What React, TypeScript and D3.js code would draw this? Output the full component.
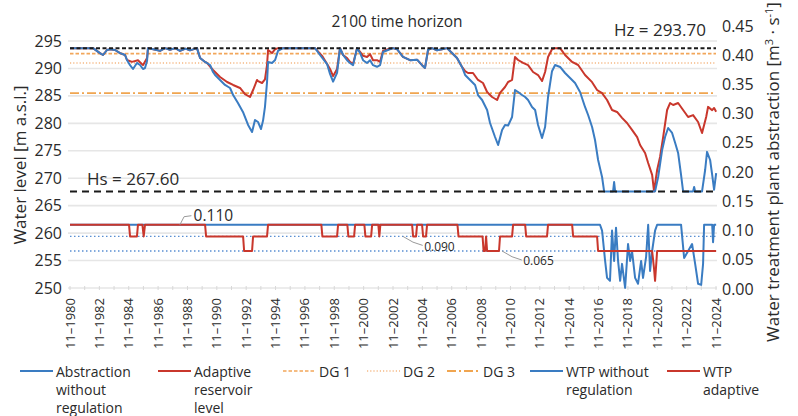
import React from 'react';
import * as d3 from 'd3';

type Pt = [number, number];

// ---- data (decimal years; November of year = year + 0.83) ----
const xTickYears = [1980, 1982, 1984, 1986, 1988, 1990, 1992, 1994, 1996, 1998, 2000, 2002, 2004, 2006, 2008, 2010, 2012, 2014, 2016, 2018, 2020, 2022, 2024];
const leftTicks = [250, 255, 260, 265, 270, 275, 280, 285, 290, 295];
const rightTicks = [0, 0.05, 0.1, 0.15, 0.2, 0.25, 0.3, 0.35, 0.4, 0.45];

const HZ = 293.7;
const HS = 267.6;
const DG1 = 292.7;
const DG2 = 291.0;
const DG3 = 285.5;
const WTP_LEVELS = [0.09, 0.065];

const levelWithoutRegulation: Pt[] = [
  [1980.83, 293.7], [1982.4, 293.7], [1982.87, 292.8], [1983.08, 292.45], [1983.35, 293.36], [1983.55, 293.5], [1983.9, 293.36],
  [1984.24, 292.8], [1984.58, 292.45], [1984.71, 291.54], [1984.92, 290.6], [1985.12, 289.9], [1985.39, 291.0], [1985.6, 290.63],
  [1985.8, 289.9], [1985.94, 290.08], [1986.08, 291.4], [1986.14, 293.7], [1986.5, 293.5], [1986.96, 293.2], [1987.3, 293.7],
  [1987.64, 293.4], [1988.0, 293.7], [1988.32, 293.2], [1988.7, 293.6], [1989.0, 293.3], [1989.48, 293.7], [1989.69, 291.9],
  [1990.03, 291.18], [1990.37, 290.63], [1990.57, 289.35], [1990.71, 288.8], [1991.05, 287.9], [1991.39, 286.99], [1991.73, 286.44],
  [1991.94, 285.16], [1992.27, 283.71], [1992.61, 282.07], [1992.96, 279.7], [1993.23, 278.42], [1993.43, 280.61], [1993.64, 280.24],
  [1993.84, 278.97], [1993.98, 280.5], [1994.11, 283.0], [1994.25, 287.5], [1994.32, 291.18], [1994.59, 291.0], [1994.8, 291.54],
  [1995.0, 293.2], [1995.34, 293.7], [1997.52, 293.7], [1997.86, 292.45], [1998.34, 290.8], [1998.54, 289.0], [1998.75, 287.6],
  [1999.02, 289.2], [1999.22, 293.7], [1999.43, 292.45], [1999.7, 291.5], [1999.9, 291.0], [2000.11, 290.6], [2000.38, 293.7],
  [2000.59, 292.8], [2000.79, 291.5], [2001.06, 291.0], [2001.27, 291.5], [2001.47, 290.6], [2001.74, 290.3], [2001.95, 290.6],
  [2002.15, 293.0], [2002.49, 293.36], [2002.83, 293.7], [2003.11, 293.5], [2003.51, 292.1], [2003.99, 291.5], [2004.47, 291.6],
  [2004.81, 290.6], [2005.01, 290.1], [2005.22, 293.4], [2005.49, 293.7], [2005.83, 293.3], [2006.17, 293.5], [2006.51, 293.7],
  [2006.85, 292.8], [2007.19, 291.9], [2007.53, 290.27], [2007.74, 288.81], [2008.08, 287.9], [2008.42, 286.99], [2008.62, 285.16],
  [2008.9, 284.25], [2009.24, 282.43], [2009.44, 280.06], [2009.78, 277.51], [2009.99, 276.05], [2010.26, 278.79], [2010.46, 279.7],
  [2010.67, 279.6], [2010.94, 281.16], [2011.14, 286.07], [2011.35, 285.71], [2011.62, 285.16], [2011.83, 284.8], [2012.03, 284.25],
  [2012.3, 282.98], [2012.51, 282.43], [2012.71, 279.7], [2012.98, 277.33], [2013.19, 279.33], [2013.39, 284.8], [2013.66, 289.5],
  [2013.87, 290.63], [2014.21, 290.27], [2014.55, 289.17], [2014.89, 288.26], [2015.23, 287.35], [2015.57, 285.71], [2015.91, 282.98],
  [2016.12, 281.52], [2016.39, 279.33], [2016.59, 276.96], [2016.8, 273.32], [2017.07, 270.22], [2017.21, 267.6], [2017.82, 267.6],
  [2017.89, 269.3], [2017.96, 267.6], [2020.68, 267.6], [2020.89, 270.22], [2021.16, 275.14], [2021.36, 277.51], [2021.57, 279.15],
  [2021.84, 278.24], [2022.05, 276.42], [2022.25, 274.6], [2022.45, 270.59], [2022.59, 267.6], [2023.27, 267.6], [2023.34, 268.4],
  [2023.41, 267.6], [2023.88, 267.6], [2024.09, 271.5], [2024.22, 274.8], [2024.43, 273.32], [2024.57, 270.59], [2024.7, 267.9],
  [2024.84, 270.95],
];

const levelAdaptive: Pt[] = [
  [1980.83, 293.7], [1982.4, 293.7], [1982.87, 292.8], [1983.08, 292.45], [1983.35, 293.36], [1983.55, 293.5], [1983.9, 293.36],
  [1984.24, 292.8], [1984.58, 292.45], [1984.71, 291.54], [1985.05, 291.2], [1985.46, 291.5], [1985.8, 290.6], [1986.08, 291.9],
  [1986.14, 293.7], [1986.5, 293.5], [1986.96, 293.2], [1987.3, 293.7], [1987.64, 293.4], [1988.0, 293.7], [1988.32, 293.2],
  [1988.7, 293.6], [1989.0, 293.3], [1989.48, 293.7], [1989.69, 291.9], [1990.03, 291.18], [1990.16, 291.0], [1990.57, 289.72],
  [1991.05, 288.44], [1991.53, 287.53], [1991.94, 286.99], [1992.41, 286.44], [1992.75, 285.34], [1993.09, 284.8], [1993.3, 286.07],
  [1993.57, 287.9], [1993.64, 287.7], [1993.91, 287.35], [1994.11, 288.0], [1994.25, 290.63], [1994.32, 293.36], [1994.59, 292.8],
  [1994.8, 293.5], [1995.0, 293.7], [1997.52, 293.7], [1998.0, 292.3], [1998.34, 290.8], [1998.54, 289.9], [1998.75, 288.6],
  [1999.02, 289.9], [1999.22, 293.7], [1999.43, 292.45], [1999.7, 291.9], [1999.9, 291.2], [2000.11, 290.8], [2000.38, 293.7],
  [2000.59, 293.0], [2000.79, 292.3], [2001.06, 292.1], [2001.27, 292.6], [2001.47, 291.5], [2001.74, 291.5], [2001.95, 291.2],
  [2002.15, 293.2], [2002.49, 293.5], [2002.83, 293.7], [2003.11, 293.5], [2003.51, 292.1], [2003.99, 291.5], [2004.47, 291.6],
  [2004.81, 290.6], [2005.01, 290.1], [2005.22, 293.4], [2005.49, 293.7], [2005.83, 293.3], [2006.17, 293.5], [2006.51, 293.7],
  [2006.85, 292.8], [2007.19, 291.9], [2007.53, 290.27], [2007.74, 289.5], [2007.94, 289.17], [2008.28, 289.17], [2008.62, 287.9],
  [2008.96, 287.35], [2009.24, 285.71], [2009.58, 284.8], [2009.92, 284.25], [2010.12, 285.53], [2010.46, 286.62], [2010.67, 287.53],
  [2010.94, 287.9], [2011.14, 292.09], [2011.35, 291.54], [2011.69, 291.0], [2012.03, 290.6], [2012.37, 289.35], [2012.71, 288.8],
  [2012.98, 287.7], [2013.19, 289.35], [2013.39, 292.09], [2013.66, 293.5], [2013.87, 293.7], [2014.21, 293.7], [2014.55, 292.45],
  [2015.03, 291.18], [2015.44, 290.63], [2015.91, 288.8], [2016.39, 287.5], [2016.73, 286.07], [2017.07, 285.5], [2017.41, 284.25],
  [2017.75, 282.43], [2018.09, 282.07], [2018.43, 281.0], [2018.77, 280.06], [2019.11, 278.8], [2019.46, 277.5], [2019.66, 276.05],
  [2020.0, 274.6], [2020.21, 272.77], [2020.48, 270.6], [2020.61, 267.6], [2020.82, 271.5], [2021.02, 273.87], [2021.23, 277.5],
  [2021.5, 282.43], [2021.7, 283.7], [2021.91, 283.34], [2022.25, 283.7], [2022.59, 282.43], [2022.93, 281.16], [2023.27, 281.5],
  [2023.61, 280.24], [2023.88, 278.24], [2024.16, 281.16], [2024.29, 283.0], [2024.57, 282.4], [2024.7, 282.8], [2024.84, 282.1],
];

const wtpWithoutRegulation: Pt[] = [
  [1980.83, 0.11], [2016.93, 0.11], [2017.07, 0.1], [2017.27, 0.05], [2017.41, 0.019], [2017.61, 0.014], [2017.75, 0.1],
  [2017.89, 0.048], [2018.02, 0.105], [2018.16, 0.048], [2018.3, 0.014], [2018.43, 0.043], [2018.64, 0.002], [2018.84, 0.077],
  [2018.98, 0.048], [2019.11, 0.065], [2019.32, 0.019], [2019.52, 0.009], [2019.73, 0.048], [2019.86, 0.019], [2020.07, 0.055],
  [2020.21, 0.11], [2020.34, 0.031], [2020.48, 0.065], [2020.68, 0.1], [2020.82, 0.11], [2022.45, 0.11], [2022.66, 0.053],
  [2022.93, 0.065], [2023.2, 0.077], [2023.41, 0.043], [2023.61, 0.009], [2023.82, 0.007], [2023.95, 0.043], [2024.02, 0.11],
  [2024.57, 0.11], [2024.63, 0.08], [2024.7, 0.11], [2024.84, 0.11],
];

const wtpAdaptive: Pt[] = [
  [1980.83, 0.11], [1984.85, 0.11], [1984.92, 0.09], [1985.39, 0.09], [1985.46, 0.11], [1985.76, 0.11], [1985.85, 0.09],
  [1985.94, 0.11], [1990.03, 0.11], [1990.1, 0.09], [1992.62, 0.09], [1992.69, 0.065], [1993.23, 0.065], [1993.3, 0.09],
  [1994.25, 0.09], [1994.32, 0.11], [1997.95, 0.11], [1998.02, 0.09], [1999.02, 0.09], [1999.09, 0.11], [1999.72, 0.11],
  [1999.79, 0.09], [2000.18, 0.09], [2000.25, 0.11], [2000.88, 0.11], [2000.95, 0.09], [2001.34, 0.09], [2001.41, 0.11],
  [2001.83, 0.11], [2001.9, 0.09], [2001.97, 0.11], [2004.13, 0.11], [2004.2, 0.09], [2004.4, 0.09], [2004.47, 0.11],
  [2004.81, 0.11], [2004.88, 0.09], [2005.08, 0.09], [2005.15, 0.11], [2007.22, 0.11], [2007.29, 0.09], [2008.93, 0.09],
  [2009.0, 0.065], [2009.1, 0.065], [2009.17, 0.09], [2009.24, 0.065], [2010.05, 0.065], [2010.12, 0.09], [2010.94, 0.09],
  [2011.01, 0.11], [2011.83, 0.11], [2011.9, 0.09], [2013.32, 0.09], [2013.39, 0.11], [2015.03, 0.11], [2015.1, 0.09],
  [2016.73, 0.09], [2016.8, 0.065], [2020.48, 0.065], [2020.61, 0.035], [2020.68, 0.014], [2020.82, 0.065], [2024.84, 0.065],
];

const BLUE = '#3a7cc2';
const RED = '#c9372c';
const TEXT = '#2a2a2a';
const FONT = "'Open Sans', 'Noto Sans', sans-serif";

const legendItems = [
  { lines: ['Abstraction', 'without', 'regulation'], color: BLUE, dash: undefined as string | undefined, width: 2 },
  { lines: ['Adaptive', 'reservoir', 'level'], color: RED, dash: undefined, width: 2 },
  { lines: ['DG 1'], color: '#f2a65a', dash: '3.5,2', width: 1.6 },
  { lines: ['DG 2'], color: '#f5b985', dash: '1.2,2', width: 1.6 },
  { lines: ['DG 3'], color: '#f0a550', dash: '9,3,2,3', width: 1.8 },
  { lines: ['WTP without', 'regulation'], color: BLUE, dash: undefined, width: 2 },
  { lines: ['WTP', 'adaptive'], color: RED, dash: undefined, width: 2 },
];
const legendX = [20, 158, 283, 367, 447, 530, 667];

export default function App() {
  const x = d3.scaleLinear().domain([1980.83, 2024.83]).range([70, 716]);
  const yL = d3.scaleLinear().domain([250, 295]).range([288, 41]);
  const yR = d3.scaleLinear().domain([0, 0.45]).range([289, 26]);

  const lineL = d3.line<Pt>().x((d) => x(d[0])).y((d) => yL(d[1]));
  const lineR = d3.line<Pt>().x((d) => x(d[0])).y((d) => yR(d[1]));

  const x0 = x(1980.83);
  const x1 = x(2024.83);

  const minorYears = d3.range(1980, 2025);

  return (
    <svg width={798} height={416} style={{ position: 'absolute', left: 0, top: 0, background: '#fff' }} fontFamily={FONT}>
      {/* gridlines */}
      {leftTicks.map((t) => (
        <line key={'g' + t} x1={x0 - 2} x2={x1 + 1} y1={yL(t)} y2={yL(t)} stroke="#e6e6e6" strokeWidth={1.6} />
      ))}
      {/* minor bottom ticks */}
      {minorYears.map((yy) => (
        <line key={'m' + yy} x1={x(yy + 0.83)} x2={x(yy + 0.83)} y1={yL(250) - 2} y2={yL(250) + 2} stroke="#d8d8d8" strokeWidth={1} />
      ))}

      {/* design guide lines */}
      <line x1={x0} x2={x1} y1={yL(DG1)} y2={yL(DG1)} stroke="#f2a65a" strokeWidth={1.6} strokeDasharray="3.5,2" />
      <line x1={x0} x2={x1} y1={yL(DG2)} y2={yL(DG2)} stroke="#f5b985" strokeWidth={1.6} strokeDasharray="1.2,2" />
      <line x1={x0} x2={x1} y1={yL(DG3)} y2={yL(DG3)} stroke="#f0a550" strokeWidth={1.8} strokeDasharray="9,3,2,3" />

      {/* WTP reference dotted lines */}
      {WTP_LEVELS.map((v) => (
        <line key={'w' + v} x1={x0} x2={x1} y1={yR(v)} y2={yR(v)} stroke="#5a8fd2" strokeWidth={1.3} strokeDasharray="1.5,2.5" />
      ))}

      {/* water levels */}
      <path d={lineL(levelAdaptive) || ''} fill="none" stroke={RED} strokeWidth={2} strokeLinejoin="round" />
      <path d={lineL(levelWithoutRegulation) || ''} fill="none" stroke={BLUE} strokeWidth={2} strokeLinejoin="round" />

      {/* Hz / Hs */}
      <line x1={x0} x2={x1} y1={yL(HZ)} y2={yL(HZ)} stroke="#1a1a1a" strokeWidth={2} strokeDasharray="4,2.5" />
      <line x1={x0} x2={x1} y1={yL(HS)} y2={yL(HS)} stroke="#1a1a1a" strokeWidth={2} strokeDasharray="7,5" />

      {/* WTP abstraction */}
      <path d={lineR(wtpWithoutRegulation) || ''} fill="none" stroke={BLUE} strokeWidth={2} strokeLinejoin="round" />
      <path d={lineR(wtpAdaptive) || ''} fill="none" stroke={RED} strokeWidth={2} strokeLinejoin="round" />

      {/* annotations */}
      <path d={`M${x(1988.32)},${yR(0.11)} L${x(1988.6)},${yR(0.11) - 8} L${x(1989.1)},${yR(0.11) - 9}`} fill="none" stroke="#9a9a9a" strokeWidth={1} />
      <text x={x(1989.25)} y={yR(0.11) - 9} dy="0.35em" fontSize={15.5} fill={TEXT}>0.110</text>
      <path d={`M${x(2003.51)},${yR(0.09)} Q${x(2004.2)},${yR(0.09) + 7} ${x(2004.85)},${yR(0.09) + 9}`} fill="none" stroke="#9a9a9a" strokeWidth={1} />
      <text x={x(2004.95)} y={yR(0.09) + 10} dy="0.35em" fontSize={12} fill={TEXT}>0.090</text>
      <path d={`M${x(2010.26)},${yR(0.065)} Q${x(2010.95)},${yR(0.065) + 7} ${x(2011.6)},${yR(0.065) + 9}`} fill="none" stroke="#9a9a9a" strokeWidth={1} />
      <text x={x(2011.7)} y={yR(0.065) + 10} dy="0.35em" fontSize={12} fill={TEXT}>0.065</text>

      <text x={706} y={36} textAnchor="end" fontSize={17} fill={TEXT}>Hz = 293.70</text>
      <text x={87} y={185} fontSize={17} fill={TEXT}>Hs = 267.60</text>
      <text x={397} y={27} textAnchor="middle" fontSize={15.5} fill={TEXT}>2100 time horizon</text>

      {/* left axis */}
      {leftTicks.map((t) => (
        <text key={'l' + t} x={62} y={yL(t)} dy="0.35em" textAnchor="end" fontSize={16} fill={TEXT}>{t}</text>
      ))}
      {/* right axis */}
      {rightTicks.map((t) => (
        <text key={'r' + t} x={722} y={yR(t)} dy="0.35em" textAnchor="start" fontSize={16} fill={TEXT}>{t.toFixed(2)}</text>
      ))}
      {/* x ticks */}
      {xTickYears.map((yy) => (
        <text key={'x' + yy} transform={`translate(${x(yy + 0.83)},298) rotate(-90)`} dy="0.35em" textAnchor="end" fontSize={13} fill={TEXT}>
          {`11–${yy}`}
        </text>
      ))}

      {/* axis titles */}
      <text transform="translate(26,165) rotate(-90)" textAnchor="middle" fontSize={17} fill={TEXT}>Water level [m a.s.l.]</text>
      <text transform="translate(779,172) rotate(-90)" textAnchor="middle" fontSize={17} fill={TEXT}>
        Water treatment plant abstraction [m<tspan dy={-6} fontSize={11}>3</tspan><tspan dy={6}> · s</tspan><tspan dy={-6} fontSize={11}>-1</tspan><tspan dy={6}>]</tspan>
      </text>

      {/* legend */}
      {legendItems.map((it, i) => (
        <g key={'lg' + i} transform={`translate(${legendX[i]},0)`}>
          <line x1={0} x2={33} y1={371} y2={371} stroke={it.color} strokeWidth={it.width} strokeDasharray={it.dash} />
          {it.lines.map((ln, j) => (
            <text key={j} x={36} y={377 + j * 18} fontSize={14} fill={TEXT}>{ln}</text>
          ))}
        </g>
      ))}
    </svg>
  );
}
